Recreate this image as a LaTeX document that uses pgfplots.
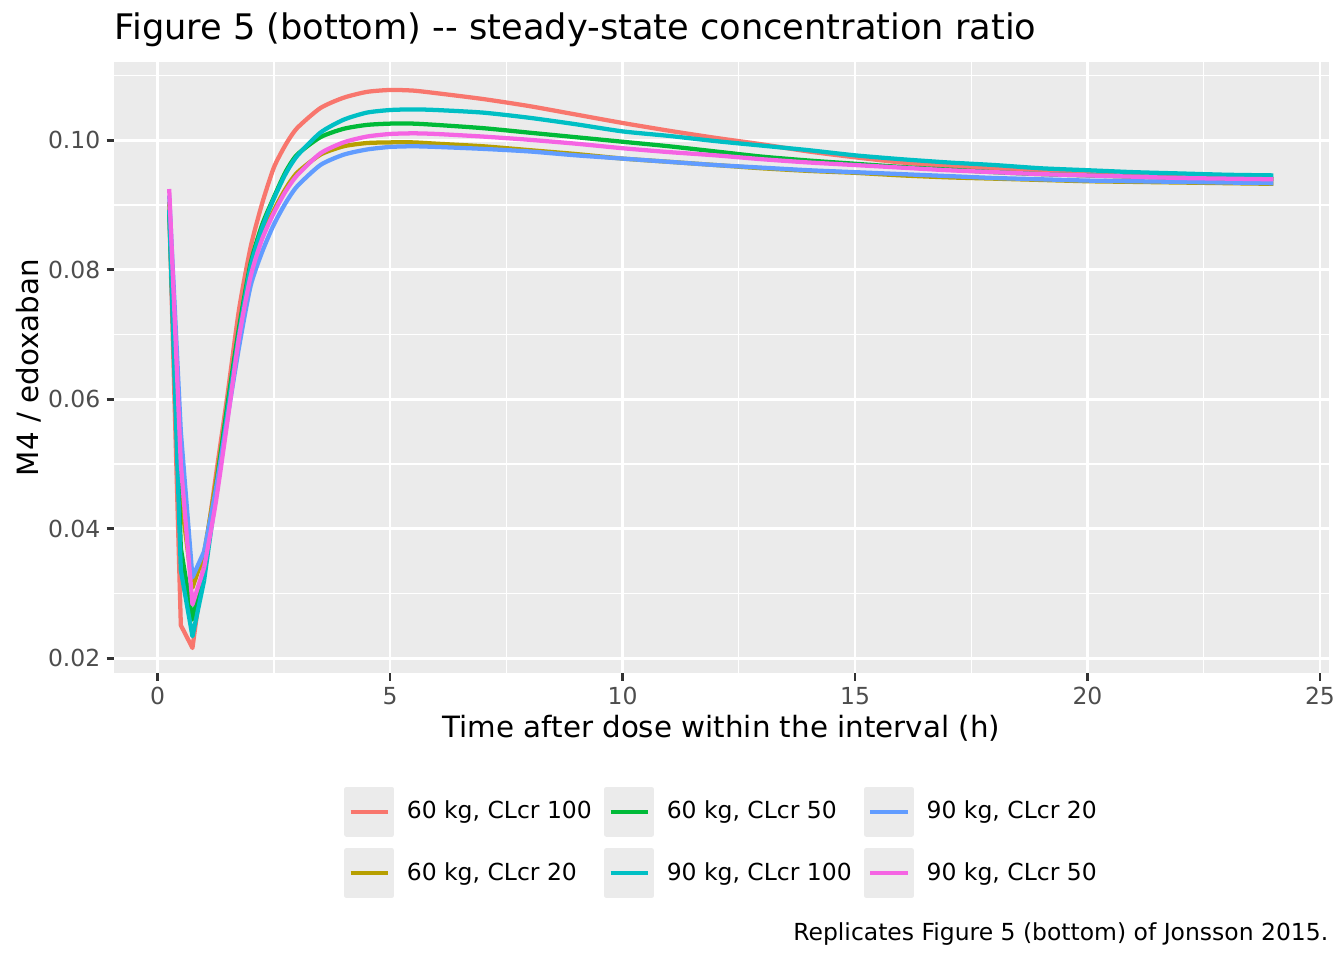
\documentclass[border=0pt]{standalone}
\usepackage{fontspec}
\setmainfont{DejaVu Sans}
\usepackage{pgfplots}
\usepackage{pgfplotstable}
\pgfplotsset{compat=1.18}
\definecolor{panelbg}{HTML}{EBEBEB}
\definecolor{ticklab}{HTML}{4D4D4D}
\definecolor{tickcol}{HTML}{333333}
\definecolor{cA}{HTML}{F8766D}
\definecolor{cB}{HTML}{B79F00}
\definecolor{cC}{HTML}{00BA38}
\definecolor{cD}{HTML}{00BFC4}
\definecolor{cE}{HTML}{619CFF}
\definecolor{cF}{HTML}{F564E3}

% early part (sharp dip)
\pgfplotstableread{
x     red     yel     grn     teal    blue    pink
0.25  0.0893  0.0905  0.0893  0.0893  0.0915  0.0925
0.5   0.0251  0.0450  0.0370  0.0336  0.0550  0.0500
0.75  0.0216  0.0309  0.0260  0.0234  0.0325  0.0283
1.0   0.0350  0.0362  0.0335  0.0320  0.0365  0.0340
}\earlytab

% later part (smooth rise and decline)
\pgfplotstableread{
x     red     yel     grn     teal    blue    pink
1.0   0.0350  0.0362  0.0335  0.0320  0.0365  0.0340
1.25  0.0480  0.0470  0.0460  0.0450  0.0460  0.0440
1.5   0.0605  0.0585  0.0590  0.0580  0.0570  0.0565
1.75  0.0738  0.0700  0.0710  0.0700  0.0680  0.0695
2.0   0.0835  0.0795  0.0810  0.0805  0.0775  0.0790
2.25  0.0903  0.0852  0.0870  0.0865  0.0828  0.0848
2.5   0.0958  0.0892  0.0912  0.0910  0.0870  0.0888
2.75  0.0993  0.0925  0.0951  0.0948  0.0903  0.0921
3.0   0.1019  0.0950  0.0978  0.0976  0.0929  0.0946
3.5   0.1050  0.0978  0.1005  0.1012  0.0962  0.0980
4.0   0.1066  0.0991  0.1018  0.1032  0.0978  0.0997
4.5   0.1075  0.0996  0.1024  0.1043  0.0986  0.1006
5.0   0.1078  0.0997  0.1026  0.1047  0.0990  0.1010
5.5   0.1077  0.0997  0.1026  0.1048  0.0991  0.1011
6.0   0.1073  0.0995  0.1024  0.1047  0.0990  0.1010
7.0   0.1064  0.0991  0.1019  0.1043  0.0987  0.1006
8.0   0.1053  0.0985  0.1012  0.1035  0.0983  0.1001
9.0   0.1040  0.0979  0.1005  0.1025  0.0977  0.0995
10    0.1027  0.0972  0.0998  0.1014  0.0972  0.0988
11    0.1015  0.0967  0.0991  0.1007  0.0967  0.0982
12    0.1004  0.0962  0.0983  0.0999  0.0962  0.0977
13    0.0994  0.0957  0.0975  0.0992  0.0958  0.0971
14    0.0983  0.0953  0.0969  0.0985  0.0954  0.0966
15    0.0974  0.0950  0.0964  0.0977  0.0951  0.0962
16    0.0966  0.0946  0.0959  0.0971  0.0948  0.0958
17    0.0961  0.0943  0.0955  0.0966  0.0945  0.0954
18    0.0956  0.0941  0.0951  0.0962  0.0942  0.0951
19    0.0952  0.0939  0.0948  0.0957  0.0940  0.0948
20    0.0948  0.0937  0.0946  0.0954  0.0938  0.0946
21    0.0945  0.0936  0.0944  0.0951  0.0937  0.0944
22    0.0943  0.0935  0.0942  0.0949  0.0936  0.0942
23    0.0942  0.0934  0.0941  0.0947  0.0935  0.0941
24    0.0941  0.0933  0.0940  0.0946  0.0934  0.0940
}\latetab

\begin{document}
\begin{tikzpicture}
\path[use as bounding box] (0pt,0pt) rectangle (504pt,360pt);
\begin{axis}[
  at={(42.75pt,107.51pt)}, anchor=south west,
  scale only axis, width=455.5pt, height=229.24pt,
  xmin=-0.9375, xmax=25.1875, ymin=0.01768, ymax=0.11212,
  axis background/.style={fill=panelbg},
  axis line style={draw=none},
  xtick={0,5,10,15,20,25}, xticklabels={0,5,10,15,20,25},
  ytick={0.02,0.04,0.06,0.08,0.10}, yticklabels={0.02,0.04,0.06,0.08,0.10},
  minor xtick={2.5,7.5,12.5,17.5,22.5},
  minor ytick={0.03,0.05,0.07,0.09,0.11},
  grid=both,
  major grid style={white, line width=1.07pt},
  minor grid style={white, line width=0.53pt},
  tick align=outside, tick pos=left,
  major tick length=2.75pt, minor tick length=0pt,
  tick style={tickcol, line width=1.07pt},
  tick label style={font=\fontsize{8.8}{10}\selectfont, text=ticklab},
  xticklabel style={inner sep=0pt, yshift=-2.2pt},
  yticklabel style={inner sep=0pt, xshift=-2.2pt},
  legend columns=3,
  legend cell align=left,
  legend style={at={(0.4994,-0.1859)}, anchor=north, draw=none, fill=none,
    inner sep=0pt, outer sep=0pt, row sep=4.4pt,
    nodes={inner sep=0pt, font=\fontsize{8.8}{10}\selectfont},
    /tikz/every odd column/.append style={column sep=4.9pt},
    /tikz/every even column/.append style={column sep=4.7pt}},
  legend image code/.code={
    \fill[panelbg] (0.3pt,-8.5pt) rectangle (17.2pt,8.5pt);
    \draw[#1] (1.8pt,0pt) -- (15.7pt,0pt);
  },
  every axis plot/.append style={line width=1.6pt, line join=round},
]
\addplot[cA, forget plot] table[x=x, y=red] {\earlytab};
\addplot[cA, forget plot, smooth, tension=0.4] table[x=x, y=red] {\latetab};
\addplot[cB, forget plot] table[x=x, y=yel] {\earlytab};
\addplot[cB, forget plot, smooth, tension=0.4] table[x=x, y=yel] {\latetab};
\addplot[cC, forget plot] table[x=x, y=grn] {\earlytab};
\addplot[cC, forget plot, smooth, tension=0.4] table[x=x, y=grn] {\latetab};
\addplot[cD, forget plot] table[x=x, y=teal] {\earlytab};
\addplot[cD, forget plot, smooth, tension=0.4] table[x=x, y=teal] {\latetab};
\addplot[cE, forget plot] table[x=x, y=blue] {\earlytab};
\addplot[cE, forget plot, smooth, tension=0.4] table[x=x, y=blue] {\latetab};
\addplot[cF, forget plot] table[x=x, y=pink] {\earlytab};
\addplot[cF, forget plot, smooth, tension=0.4] table[x=x, y=pink] {\latetab};
\addlegendimage{cA, line width=1.6pt}
\addlegendentry{60 kg, CLcr 100}
\addlegendimage{cC, line width=1.6pt}
\addlegendentry{60 kg, CLcr 50}
\addlegendimage{cE, line width=1.6pt}
\addlegendentry{90 kg, CLcr 20}
\addlegendimage{cB, line width=1.6pt}
\addlegendentry{60 kg, CLcr 20}
\addlegendimage{cD, line width=1.6pt}
\addlegendentry{90 kg, CLcr 100}
\addlegendimage{cF, line width=1.6pt}
\addlegendentry{90 kg, CLcr 50}
\end{axis}
\node[anchor=base west, inner sep=0pt, font=\fontsize{13.2}{15}\selectfont] at (42.75pt,345pt) {Figure 5 (bottom) -{}- steady-state concentration ratio};
\node[anchor=base, inner sep=0pt, font=\fontsize{11}{13}\selectfont] at (270.5pt,83.5pt) {Time after dose within the interval (h)};
\node[anchor=base, rotate=90, inner sep=0pt, font=\fontsize{11}{13}\selectfont] at (14.25pt,222.1pt) {M4 / edoxaban};
\node[anchor=base east, inner sep=0pt, font=\fontsize{8.8}{10}\selectfont] at (498.3pt,7.5pt) {Replicates Figure 5 (bottom) of Jonsson 2015.};
\end{tikzpicture}
\end{document}
